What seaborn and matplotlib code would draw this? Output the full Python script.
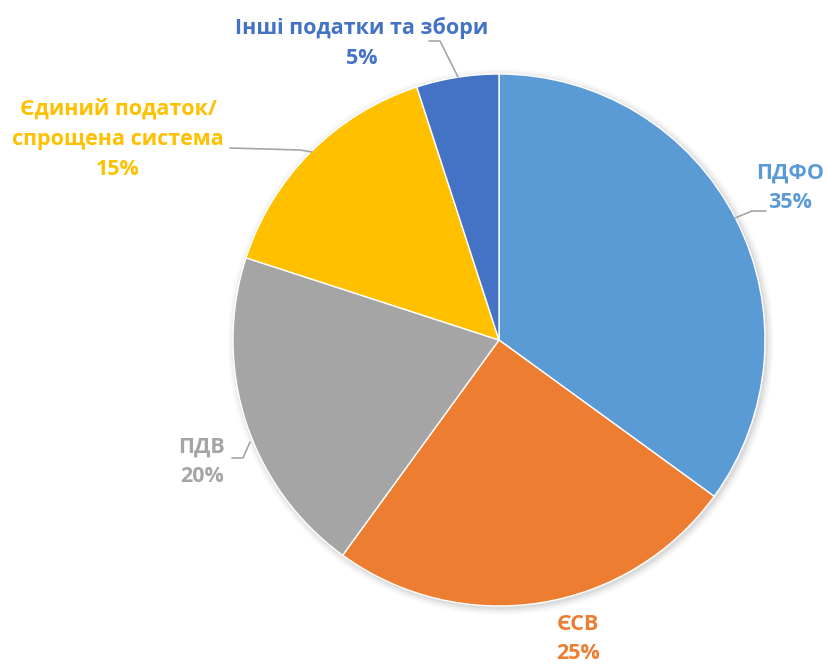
import matplotlib.pyplot as plt
import seaborn as sns

sns.set_style('white')
plt.rcParams['font.family'] = ['Open Sans', 'DejaVu Sans']

# data
labels = ['ПДФО', 'ЄСВ', 'ПДВ', 'Єдиний податок/\nспрощена система', 'Інші податки та збори']
shares = [35, 25, 20, 15, 5]
colors = ['#5B9BD5', '#ED7D31', '#A5A5A5', '#FFC000', '#4472C4']

# label placement in pixel coords (x, y from top)
label_pos = [(790, 188), (578, 639), (202, 462), (118, 139), (362, 43)]
leaders = [
    [(735, 218), (752, 211), (766, 211)],
    None,
    [(250, 442), (243, 458), (232, 458)],
    [(312, 152), (300, 150), (230, 148)],
    [(458, 77), (440, 41), (429, 41)],
]

W, H = 829, 666
fig = plt.figure(figsize=(W / 100, H / 100), dpi=100)
ax = fig.add_axes([0, 0, 1, 1])

cx, cy, r = 499, H - 340, 266

# soft shadow
for i, a in enumerate([0.05, 0.04, 0.03, 0.02]):
    ax.add_patch(plt.Circle((cx + 2, cy - 2), r + 1 + i * 2, color='black', alpha=a, lw=0, zorder=0))

ax.pie(shares, colors=colors, startangle=90, counterclock=False, center=(cx, cy), radius=r,
       wedgeprops=dict(edgecolor='white', linewidth=1), frame=True)
ax.set_xlim(0, W)
ax.set_ylim(0, H)
ax.axis('off')

for lab, val, col, (x, y), ld in zip(labels, shares, colors, label_pos, leaders):
    ax.text(x, H - y, f'{lab}\n{val}%', color=col, fontsize=15.5, fontweight='bold',
            ha='center', va='center', linespacing=1.55)
    if ld:
        ax.plot([p[0] for p in ld], [H - p[1] for p in ld], color='#A6A6A6', lw=1.2)

fig.savefig('out.png', dpi=100)
